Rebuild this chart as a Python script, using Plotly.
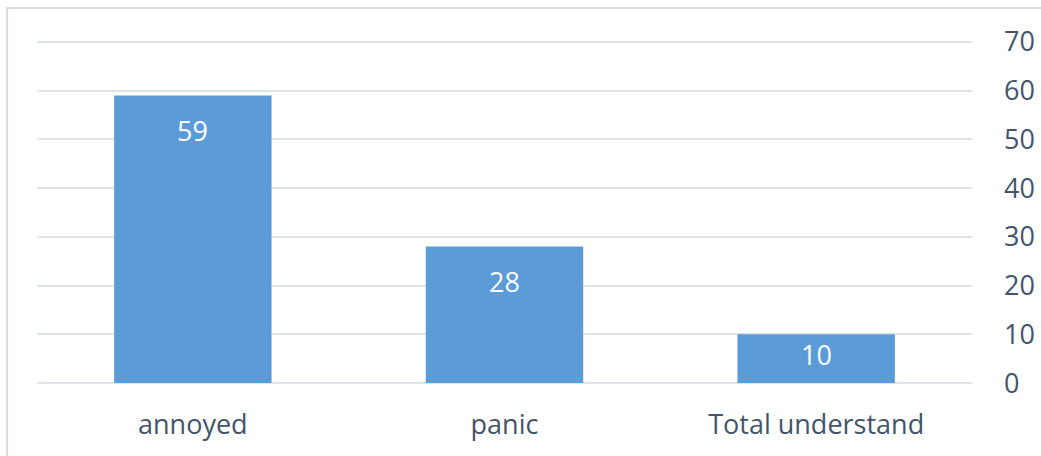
import plotly.graph_objects as go

categories = ["annoyed", "panic", "Total understand"]
values = [59, 28, 10]
y_ticks = [0, 10, 20, 30, 40, 50, 60, 70]

font_family = "Open Sans, Liberation Sans, sans-serif"
text_color = "#44546a"

pad = 0.4
plot_h = 456 - 40 - 71
px_per_unit = plot_h / (70.0 + 2 * pad)

fig = go.Figure()
fig.add_trace(go.Bar(
    x=categories,
    y=values,
    width=0.505,
    marker=dict(color="#5b9bd7", line=dict(width=0)),
    hoverinfo="skip",
))

for c, v in zip(categories, values):
    shift = min(35, v * px_per_unit * 0.42)
    fig.add_annotation(
        x=c, y=v, text=str(v), showarrow=False,
        yanchor="middle", yshift=-shift,
        font=dict(family=font_family, size=27, color="white"),
    )

fig.add_shape(
    type="rect", xref="paper", yref="paper",
    x0=-0.032, x1=1.2, y0=-0.5, y1=1.093,
    line=dict(color="#d9dde3", width=2), layer="below",
)

fig.update_layout(
    width=1041, height=456,
    margin=dict(l=37, r=69, t=40, b=71),
    paper_bgcolor="white", plot_bgcolor="white",
    showlegend=False,
    bargap=0.495,
    xaxis=dict(
        showgrid=False, zeroline=False, showline=False,
        tickfont=dict(family=font_family, size=27, color=text_color),
        ticklabelstandoff=21, automargin=False,
    ),
    yaxis=dict(
        side="right", range=[-pad, 70 + pad], tickvals=y_ticks,
        showgrid=True, gridcolor="#dfe3ea", gridwidth=1.5,
        zeroline=False, showline=False,
        tickfont=dict(family=font_family, size=27, color=text_color),
        ticklabelstandoff=31, automargin=False,
    ),
)

fig.write_html("out.html")
